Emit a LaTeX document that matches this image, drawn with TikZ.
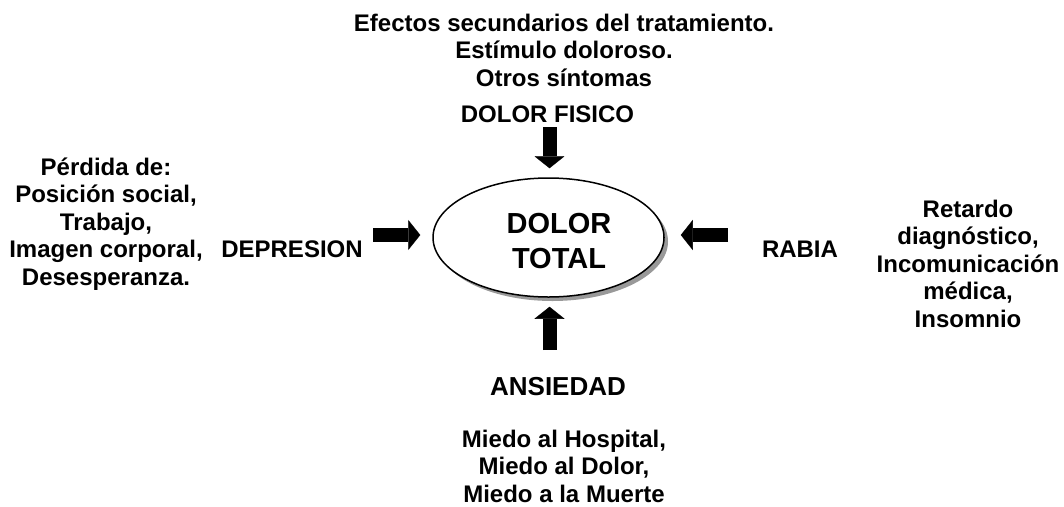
\documentclass[tikz,border=0pt]{standalone}
\usepackage{fontspec}
\setmainfont{Liberation Sans}
\usetikzlibrary{arrows.meta,shadows,shapes.geometric}
\begin{document}
\begin{tikzpicture}[x=1pt,y=-1pt,
  lbl/.style={font=\bfseries\fontsize{24}{27.6}\selectfont, align=center, inner sep=0pt, anchor=base},
  bigtxt/.style={font=\bfseries\fontsize{29}{35}\selectfont, align=center, inner sep=0pt, anchor=base},
  blockarrow/.style={line width=14pt, -{Triangle[width=30pt,length=12pt,line width=0.4pt]}}]
\useasboundingbox (0,0) rectangle (1064,506);

\node[draw, ellipse, line width=1.5pt, minimum width=231pt, minimum height=119pt, fill=white,
  drop shadow={shadow xshift=4pt, shadow yshift=-4pt, fill=black!40, opacity=1}] (total) at (548.5,237.5) {};
\node[bigtxt] (totaltxt) at (559,268) {DOLOR\\TOTAL};

\node[lbl] (causastop) at (564,86.2) {Efectos secundarios del tratamiento.\\Estímulo doloroso.\\Otros síntomas};
\node[lbl] (fisico) at (547.5,122) {DOLOR FISICO};
\node[lbl] (causasleft) at (106,285.4) {Pérdida de:\\Posición social,\\Trabajo,\\Imagen corporal,\\Desesperanza.};
\node[lbl] (depresion) at (292,257) {DEPRESION};
\node[lbl] (rabia) at (800,257) {RABIA};
\node[lbl] (causasright) at (968,327.4) {Retardo\\diagnóstico,\\Incomunicación\\médica,\\Insomnio};
\node[lbl, font=\bfseries\fontsize{26}{30}\selectfont] (ansiedad) at (558,395) {ANSIEDAD};
\node[lbl] (causasbottom) at (564,502.2) {Miedo al Hospital,\\Miedo al Dolor,\\Miedo a la Muerte};

\coordinate (tfrom) at (549.5,127);
\coordinate (lfrom) at (373,235);
\coordinate (rfrom) at (728,235);
\coordinate (bfrom) at (549.5,350);
\draw[blockarrow, shorten >=9pt] (tfrom) -- (tfrom |- total.north);
\draw[blockarrow, shorten >=12pt] (lfrom) -- (lfrom -| total.west);
\draw[blockarrow, shorten >=16pt] (rfrom) -- (rfrom -| total.east);
\draw[blockarrow, shorten >=9pt] (bfrom) -- (bfrom |- total.south);
\end{tikzpicture}
\end{document}
